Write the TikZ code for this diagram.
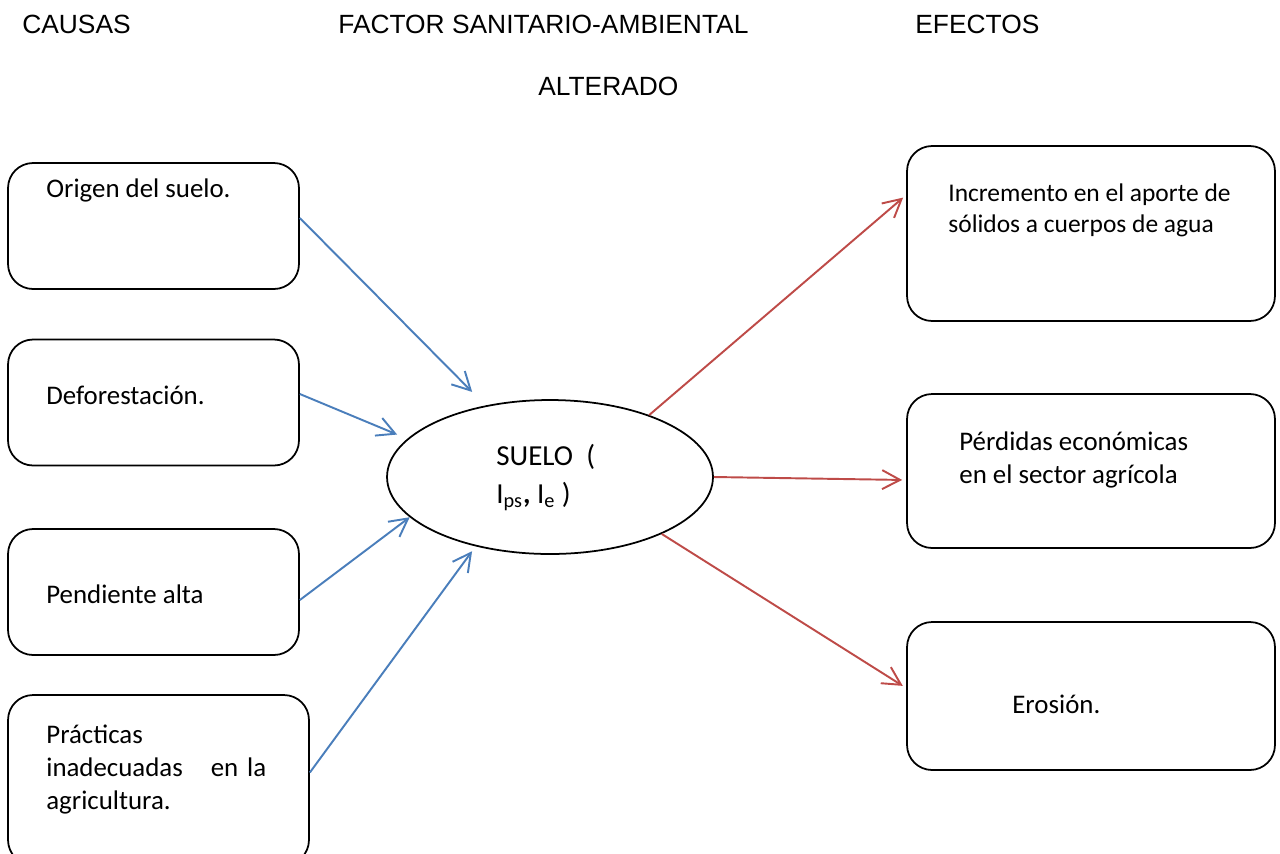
\documentclass[tikz,border=0pt]{standalone}
\usepackage{fontspec}
\setmainfont{Carlito}
\newfontfamily\arialfont{Liberation Sans}
\usetikzlibrary{shapes.geometric,arrows.meta}

\definecolor{azul}{HTML}{4A7EBB}
\definecolor{rojo}{HTML}{BE4B48}

\tikzset{
  caja/.style={draw, line width=1pt, rounded corners=0.5cm, inner sep=0pt,
    minimum width=5.82cm, minimum height=2.52cm},
  texto/.style={inner sep=0pt, anchor=base west, align=left,
    font=\fontsize{15.3}{18.5}\selectfont},
  titulo/.style={inner sep=0pt, anchor=base west,
    font=\arialfont\fontsize{15}{17}\selectfont},
  causa/.style={azul, line width=1.1pt, -{Straight Barb[length=0.36cm,width=0.38cm]}},
  efecto/.style={rojo, line width=1.1pt, -{Straight Barb[length=0.36cm,width=0.38cm]}}
}

\begin{document}
\begin{tikzpicture}[x=0.02cm, y=-0.02cm]
    \useasboundingbox (0,0) rectangle (1280,853);
    \clip (0,0) rectangle (1280,853);

    % titulos
    \node[titulo] (causas) at (22,33) {CAUSAS};
    \node[titulo] (factor) at (338,33) {FACTOR SANITARIO-AMBIENTAL};
    \node[titulo] (alterado) at (538,95) {ALTERADO};
    \node[titulo] (efectos) at (915,33) {EFECTOS};

    % causas
    \node[caja] (origen) at (153.5,226) {};
    \node[caja] (defor) at (153.5,402.5) {};
    \node[caja] (pendiente) at (153.5,592) {};
    \node[caja, minimum width=6.02cm, minimum height=3.4cm] (practicas) at (158.5,780) {};
    \node[texto] (tOrigen) at (46,197) {Origen del suelo.};
    \node[texto] (tDefor) at (46,404) {Deforestación.};
    \node[texto] (tPendiente) at (46,603) {Pendiente alta};
    \node[texto, text width=4.4cm, font=\fontsize{15.3}{19}\selectfont] (tPracticas) at (46,743)
        {Prácticas\\ inadecuadas\hfill en la\\ agricultura.};

    % suelo
    \node[draw, ellipse, line width=1pt, inner sep=0pt,
        minimum width=6.52cm, minimum height=3.08cm] (suelo) at (550,477) {};
    \node[texto, font=\fontsize{16.5}{21.5}\selectfont] (tSuelo) at (496,503)
        {SUELO\ \ (\\ I\textsubscript{ps}\textbf{,} I\textsubscript{e} )};

    % efectos
    \node[caja, minimum width=7.36cm, minimum height=3.5cm] (incremento) at (1091,233.5) {};
    \node[caja, minimum width=7.36cm, minimum height=3.08cm] (perdidas) at (1091,471) {};
    \node[caja, minimum width=7.36cm, minimum height=2.96cm] (erosion) at (1091,696) {};
    \node[texto, font=\fontsize{14.5}{17.5}\selectfont] (tIncremento) at (948,232)
        {Incremento en el aporte de\\ sólidos a cuerpos de agua};
    \node[texto] (tPerdidas) at (959,483) {Pérdidas económicas\\ en el sector agrícola};
    \node[texto] (tErosion) at (1012,713) {Erosión.};

    \draw[causa, shorten >=0.38cm] ([yshift=0.16cm]origen.east) -- (suelo.132);
    \draw[causa, shorten >=0.22cm] ([yshift=0.17cm]defor.east) -- (suelo.165);
    \draw[causa] ([yshift=-0.16cm]pendiente.east) -- (suelo.196);
    \draw[causa, shorten >=0.12cm] ([yshift=0.15cm]practicas.east) -- (suelo.223);

    \draw[efecto, shorten >=0.08cm] (suelo.32) -- ([yshift=0.77cm]incremento.west);
    \draw[efecto, shorten >=0.08cm] (suelo.east) -- ([yshift=-0.18cm]perdidas.west);
    \draw[efecto, shorten >=0.08cm] (suelo.-27) -- ([yshift=0.16cm]erosion.west);
  \end{tikzpicture}
\end{document}
